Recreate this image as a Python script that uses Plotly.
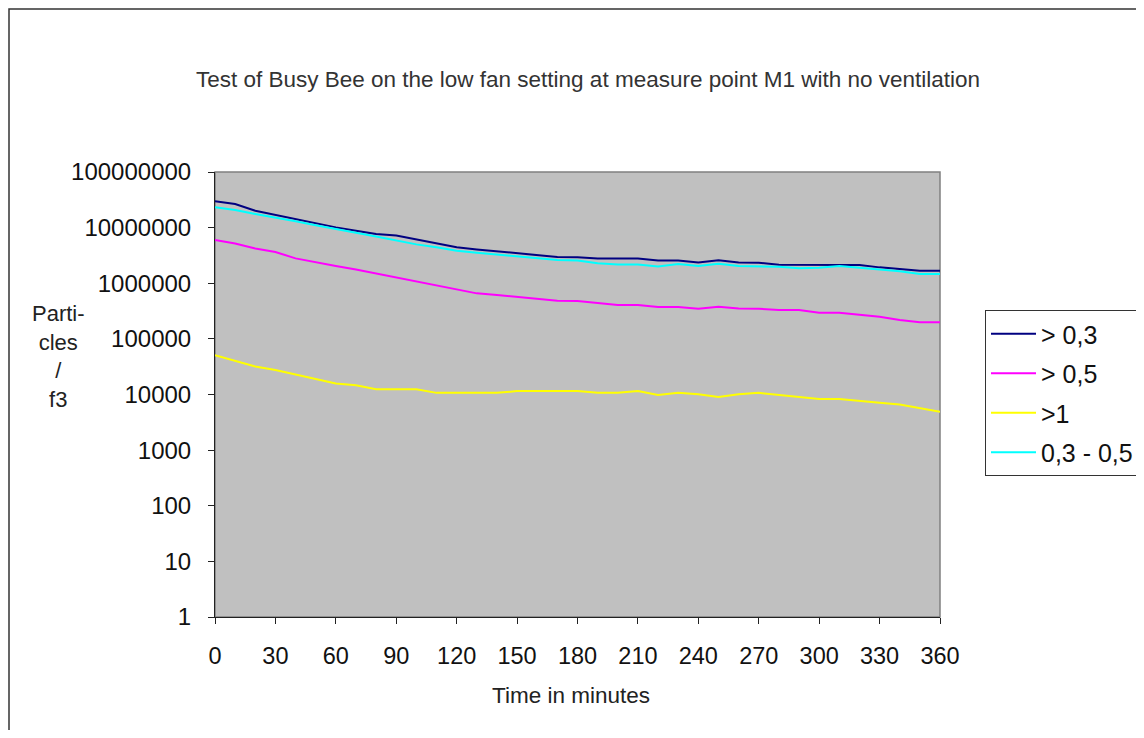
import plotly.graph_objects as go

time_min = list(range(0, 361, 10))

gt_03 = [29700000, 26500000, 20100000, 16900000, 14100000, 11900000, 10100000, 8800000, 7700000, 7200000,
         6150000, 5200000, 4420000, 4060000, 3740000, 3450000, 3170000, 2960000, 2930000, 2800000,
         2780000, 2780000, 2560000, 2560000, 2370000, 2600000, 2370000, 2340000, 2150000, 2150000,
         2150000, 2170000, 2120000, 1930000, 1820000, 1680000, 1680000]
gt_05 = [6000000, 5200000, 4200000, 3640000, 2800000, 2370000, 2040000, 1770000, 1500000, 1290000,
         1060000, 916000, 776000, 658000, 614000, 572000, 535000, 484000, 480000, 435000,
         405000, 405000, 373000, 373000, 348000, 378000, 352000, 348000, 330000, 330000,
         295000, 295000, 272000, 250000, 218000, 200000, 200000]
gt_1 = [51000, 40000, 32000, 27500, 23000, 18700, 15800, 14600, 12400, 12400,
        12400, 10700, 10700, 10700, 10700, 11500, 11500, 11500, 11500, 10700,
        10700, 11600, 9800, 10700, 10100, 9000, 10100, 10700, 9800, 9100,
        8300, 8300, 7600, 7100, 6600, 5700, 4900]
r03_05 = [23200000, 20700000, 17600000, 15300000, 13000000, 11000000, 9300000, 8100000, 6900000, 5900000,
          5000000, 4420000, 3850000, 3540000, 3260000, 3000000, 2800000, 2610000, 2560000, 2280000,
          2180000, 2170000, 2010000, 2220000, 2040000, 2240000, 2040000, 2040000, 1980000, 1870000,
          1900000, 2040000, 1900000, 1730000, 1640000, 1460000, 1460000]

series_names = ["> 0,3", "> 0,5", ">1", "0,3 - 0,5"]
series_values = [gt_03, gt_05, gt_1, r03_05]
series_colors = ["#000080", "#ff00ff", "#ffff00", "#00ffff"]

y_tickvals = [1, 10, 100, 1000, 10000, 100000, 1000000, 10000000, 100000000]
y_ticktext = ["1", "10", "100", "1000", "10000", "100000", "1000000", "10000000", "100000000"]
x_tickvals = list(range(0, 361, 30))

FONT = "Liberation Sans, Arial, sans-serif"

fig = go.Figure()
for i, (name, vals, col) in enumerate(zip(series_names, series_values, series_colors)):
    fig.add_trace(go.Scatter(x=time_min, y=vals, mode="lines", name=name,
                             legendgroup=f"g{i}",
                             line=dict(color=col, width=2)))

OFF = 8  # page body margin
W, H = 1144 - 2 * OFF, 738 - 2 * OFF
# plot area in screen pixels
L, R, T, B = 215, 940, 172, 617

def px_x(p):
    return (p - L) / (R - L)

def px_y(p):
    return (B - p) / (B - T)

def cx(p):
    return (p - OFF) / W

def cy(p):
    return 1 - (p - OFF) / H

fig.update_layout(
    width=W, height=H,
    margin=dict(l=L - OFF, r=W - (R - OFF), t=T - OFF, b=H - (B - OFF), pad=0, autoexpand=False),
    paper_bgcolor="white",
    plot_bgcolor="#c0c0c0",
    font=dict(family=FONT, size=22, color="#111111"),
    title=dict(text="Test of Busy Bee on the low fan setting at measure point M1 with no ventilation",
               x=cx(588), xanchor="center", y=cy(79), yanchor="middle",
               font=dict(family=FONT, size=22.5, color="#333333")),
    showlegend=True,
    legend=dict(xref="container", yref="container", x=cx(985), y=cy(310),
                xanchor="left", yanchor="top",
                bgcolor="white", bordercolor="#333333", borderwidth=1,
                font=dict(family=FONT, size=25, color="#111111"),
                traceorder="grouped", tracegroupgap=4, itemwidth=45),
    xaxis=dict(range=[0, 360], tickvals=x_tickvals, showgrid=False, zeroline=False,
               showline=True, linecolor="#222222", linewidth=1,
               ticks="outside", ticklen=6, tickcolor="#222222",
               tickfont=dict(family=FONT, size=23.5, color="#111111"),
               ticklabelstandoff=12),
    yaxis=dict(type="log", range=[0, 8], tickvals=y_tickvals, ticktext=y_ticktext,
               showgrid=False, zeroline=False,
               showline=True, linecolor="#222222", linewidth=1,
               ticks="outside", ticklen=6, tickcolor="#222222",
               tickfont=dict(family=FONT, size=24, color="#111111"),
               ticklabelstandoff=12),
    shapes=[
        dict(type="rect", xref="paper", yref="paper", x0=0, y0=0, x1=1, y1=1,
             line=dict(color="#808080", width=1.5), layer="below"),
        dict(type="rect", xref="paper", yref="paper",
             x0=px_x(OFF + 1), y0=px_y(780), x1=px_x(1180), y1=px_y(OFF + 1),
             line=dict(color="#333333", width=1.5)),
    ],
    annotations=[
        dict(text="Time in minutes", xref="paper", yref="paper", x=px_x(571), y=px_y(695),
             xanchor="center", yanchor="middle", showarrow=False,
             font=dict(family=FONT, size=22.5, color="#222222")),
        dict(text="Parti-<br>cles<br>/<br>f3", xref="paper", yref="paper", x=px_x(58), y=px_y(356),
             xanchor="center", yanchor="middle", showarrow=False, align="center",
             font=dict(family=FONT, size=22, color="#222222")),
    ],
)

fig.write_html("out.html")
